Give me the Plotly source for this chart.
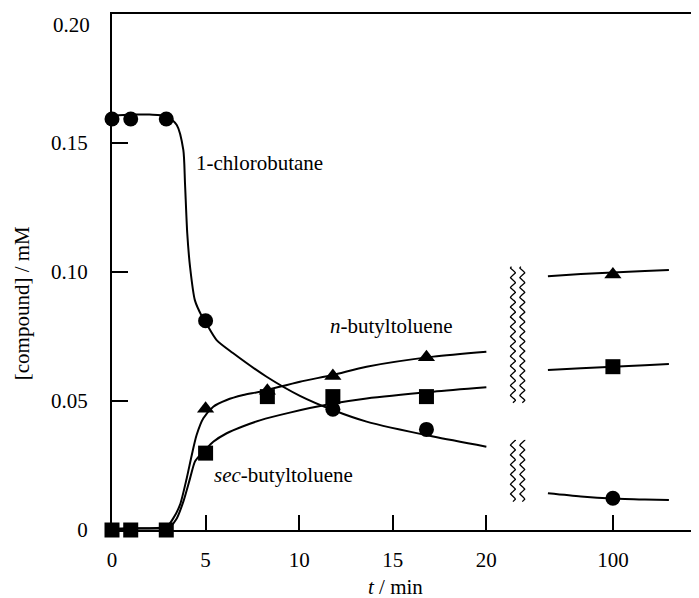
import numpy as np
import plotly.graph_objects as go

# ---------------- data (real time t in min, concentration in mM) ----------------
# measured points
circ_t = [0, 1, 2.9, 5, 11.8, 16.8, 100]
circ_y = [0.1593, 0.1593, 0.1593, 0.0811, 0.0468, 0.0390, 0.0123]

tri_t = [5, 8.3, 11.8, 16.8, 100]
tri_y = [0.0470, 0.0540, 0.0597, 0.0670, 0.0990]

sq_t = [0, 1, 2.9, 5, 8.3, 11.8, 16.8, 100]
sq_y = [0.0, 0.0, 0.0, 0.0298, 0.0517, 0.0517, 0.0517, 0.0633]

# fitted curves, first segment (0-20 min)
chl_t = [0, 1, 2, 2.9, 3.46, 3.81, 3.90, 4.02, 4.17, 4.43, 4.79, 5.0, 5.59, 6.46, 8.26, 10.04, 11.8, 13.6, 17.16, 20.0]
chl_y = [0.1605, 0.161, 0.161, 0.1605, 0.157, 0.1473, 0.1344, 0.115, 0.102, 0.089, 0.0830, 0.0805, 0.0736, 0.0686, 0.0594, 0.0520, 0.0465, 0.0420, 0.0362, 0.0323]

nbt_t = [0, 1, 2.92, 3.27, 3.63, 3.99, 4.26, 4.52, 4.88, 5.41, 6.13, 7.01, 7.9, 10.04, 11.8, 13.6, 17.16, 20.0]
nbt_y = [0.0005, 0.0007, 0.0013, 0.0045, 0.0097, 0.020, 0.029, 0.0368, 0.0433, 0.0478, 0.0504, 0.0523, 0.0536, 0.0575, 0.0601, 0.0633, 0.0672, 0.0691]

sbt_t = [0, 1, 2.92, 3.1, 3.46, 3.81, 4.17, 4.43, 4.70, 4.97, 5.41, 6.13, 7.01, 7.9, 9.5, 11.8, 13.6, 17.16, 20.0]
sbt_y = [0.0003, 0.0005, 0.0008, 0.0013, 0.0045, 0.011, 0.020, 0.0265, 0.0290, 0.0310, 0.0342, 0.0375, 0.0402, 0.0425, 0.0455, 0.0490, 0.0510, 0.0536, 0.0553]

# fitted curves, second segment (around 100 min)
seg2_t = [59.4, 80, 100, 120, 135]
chl2_y = [0.0142, 0.0130, 0.0122, 0.0118, 0.0116]
nbt2_y = [0.0984, 0.0992, 0.0998, 0.1004, 0.1008]
sbt2_y = [0.0620, 0.0627, 0.0633, 0.0639, 0.0643]

x_tick_vals = [0, 5, 10, 15, 20, 100]
x_tick_text = ["0", "5", "10", "15", "20", "100"]
y_tick_vals = [0, 0.05, 0.10, 0.15]
y_tick_text = ["0", "0.05", "0.10", "0.15"]
y_top_label = "0.20"

# ---------------- broken-axis mapping ----------------
POS100 = 26.76   # display position of t = 100
K2 = 0.0855      # compression of the second segment
X_MAX = 31.36


def disp(t):
    t = np.asarray(t, dtype=float)
    return np.where(t <= 20.5, t, POS100 + (t - 100.0) * K2)


FONT = "Liberation Serif, Tinos, Times New Roman, Times, DejaVu Serif, serif"
BLACK = "black"

fig = go.Figure()

line_style = dict(color=BLACK, width=2, shape="spline", smoothing=0.7)
for tt, yy in [(chl_t, chl_y), (nbt_t, nbt_y), (sbt_t, sbt_y),
               (seg2_t, chl2_y), (seg2_t, nbt2_y), (seg2_t, sbt2_y)]:
    fig.add_trace(go.Scatter(x=disp(tt), y=yy, mode="lines", line=line_style,
                             hoverinfo="skip", showlegend=False))

# break marks (wavy lines)
def wavy(y0, y1, xc):
    yy = np.linspace(y0, y1, 400)
    period = 0.0038
    xx = xc + 0.13 * np.sin(2 * np.pi * (yy - y0) / period)
    return xx, yy

for (y0, y1) in [(0.0493, 0.1021), (0.0110, 0.0349)]:
    for xc in [21.42, 21.92]:
        xx, yy = wavy(y0, y1, xc)
        fig.add_trace(go.Scatter(x=xx, y=yy, mode="lines",
                                 line=dict(color=BLACK, width=1.3),
                                 hoverinfo="skip", showlegend=False))

fig.add_trace(go.Scatter(x=disp(circ_t), y=circ_y, mode="markers",
                         marker=dict(symbol="circle", size=15, color=BLACK),
                         cliponaxis=False, showlegend=False))
fig.add_trace(go.Scatter(x=disp(tri_t), y=tri_y, mode="markers",
                         marker=dict(symbol="triangle-up", size=15, color=BLACK),
                         cliponaxis=False, showlegend=False))
fig.add_trace(go.Scatter(x=disp(sq_t), y=sq_y, mode="markers",
                         marker=dict(symbol="square", size=15, color=BLACK),
                         cliponaxis=False, showlegend=False))

font = dict(family=FONT, size=21, color=BLACK)

annotations = [
    dict(x=4.38, y=0.1422, xref="x", yref="y", text="1-chlorobutane",
         xanchor="left", yanchor="middle", showarrow=False, font=font),
    dict(x=11.55, y=0.0791, xref="x", yref="y", text="<i>n</i>-butyltoluene",
         xanchor="left", yanchor="middle", showarrow=False, font=font),
    dict(x=5.34, y=0.0213, xref="x", yref="y", text="<i>sec</i>-butyltoluene",
         xanchor="left", yanchor="middle", showarrow=False, font=font),
    dict(x=15.12, y=-0.110, xref="x", yref="paper", text="<i>t</i> / min",
         xanchor="center", yanchor="middle", showarrow=False, font=font),
    dict(x=-0.152, y=0.439, xref="paper", yref="paper", text="[compound] / mM",
         textangle=-90, xanchor="center", yanchor="middle", showarrow=False, font=font),
    dict(x=-0.034, y=0.2, xref="paper", yref="y", text=y_top_label, yshift=-11,
         xanchor="right", yanchor="middle", showarrow=False, font=font),
]

# the page body has an 8 px margin, so the figure is sized to end at the window edge
fig.update_layout(
    width=691, height=590,
    margin=dict(l=104, r=0, t=6, b=68),
    paper_bgcolor="white", plot_bgcolor="white",
    font=font,
    annotations=annotations,
    showlegend=False,
    xaxis=dict(range=[0, X_MAX], showgrid=False, zeroline=False,
               showline=True, linecolor=BLACK, linewidth=2, mirror=True,
               ticks="inside", ticklen=15, tickwidth=2, tickcolor=BLACK,
               tickvals=list(disp(x_tick_vals)), ticktext=x_tick_text,
               ticklabelstandoff=10, tickfont=font),
    yaxis=dict(range=[0, 0.2], showgrid=False, zeroline=False,
               showline=True, linecolor=BLACK, linewidth=2, mirror=False,
               ticks="inside", ticklen=16, tickwidth=2, tickcolor=BLACK,
               tickvals=y_tick_vals, ticktext=y_tick_text,
               ticklabelstandoff=18, tickfont=font),
)

fig.write_html("out.html")
